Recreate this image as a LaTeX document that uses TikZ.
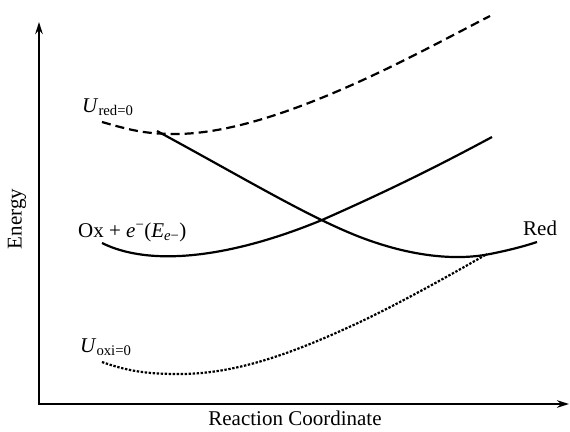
\documentclass[tikz,border=0pt]{standalone}
\usepackage{fontspec}
\setmainfont{Liberation Serif}
\usetikzlibrary{arrows.meta}
\begin{document}
\begin{tikzpicture}[x=1pt,y=-1pt,
  axis/.style={line width=2.2pt,-{Stealth[length=12pt,width=7.5pt]}},
  curve/.style={line width=2.2pt},
  dashedcurve/.style={curve,dash pattern=on 9pt off 5pt},
  dottedcurve/.style={curve,dash pattern=on 2.4pt off 1.6pt},
  lbl/.style={font=\fontsize{21}{25}\selectfont,inner sep=0pt}]
\useasboundingbox (0,0) rectangle (570,431);
\coordinate (ybot) at (39,405.1);
\coordinate (ytop) at (39,22);
\coordinate (xbeg) at (37.9,404);
\coordinate (xend) at (569,404);
\draw[axis] (ybot) -- (ytop);
\draw[axis] (xbeg) -- (xend);
% dashed U_red=0
\draw[dashedcurve] (102,122) .. controls (130,130) and (145,134) .. (175,134)
  .. controls (230,134) and (300,110) .. (380,72)
  .. controls (420,53) and (455,34) .. (490,16);
% Red curve
\draw[curve] (157,131) .. controls (240,176) and (300,212) .. (350,233)
  .. controls (400,254) and (450,262) .. (490,254)
  .. controls (510,250) and (525,246) .. (537,242);
% Ox curve
\draw[curve] (102,243) .. controls (150,267) and (230,258) .. (322,220)
  .. controls (390,190) and (440,165) .. (492,137);
% dotted U_oxi=0
\draw[dottedcurve] (102,362) .. controls (130,372) and (150,374) .. (180,374)
  .. controls (240,374) and (300,350) .. (360,322)
  .. controls (400,303) and (445,278) .. (487,254);
% labels
\node[lbl,anchor=base west] (ured) at (82,112) {\textit{U}\textsubscript{red=0}};
\node[lbl,anchor=base west] (ox) at (78,237) {Ox + \textit{e}\textsuperscript{−}(\textit{E}\textsubscript{\textit{e}−})};
\node[lbl,anchor=base west] (uoxi) at (80,352) {\textit{U}\textsubscript{oxi=0}};
\node[lbl,anchor=base west] (red) at (523,235) {Red};
\node[lbl,rotate=90] (energy) at (17,219) {Energy};
\node[lbl,anchor=base] (rc) at (295,425) {Reaction Coordinate};
\end{tikzpicture}
\end{document}
